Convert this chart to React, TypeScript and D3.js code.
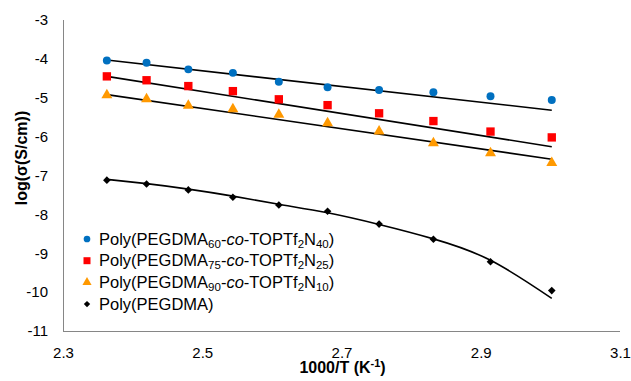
import React, { useEffect, useRef } from "react";
import * as d3 from "d3";

// 1000/T (K^-1) for 150 ... 60 °C
const invT = [2.363, 2.42, 2.48, 2.544, 2.61, 2.68, 2.754, 2.832, 2.914, 3.002];

const peg60 = [-4.04, -4.1, -4.27, -4.36, -4.59, -4.73, -4.8, -4.86, -4.96, -5.06];
const peg75 = [-4.45, -4.55, -4.7, -4.83, -5.04, -5.19, -5.4, -5.6, -5.87, -6.02];
const peg90 = [-4.96, -5.06, -5.23, -5.32, -5.46, -5.68, -5.89, -6.19, -6.45, -6.7];
const pegdma = [-7.12, -7.22, -7.37, -7.56, -7.76, -7.92, -8.25, -8.64, -9.22, -9.96];

// trend lines (start / end for the linear ones)
const fitX = [2.363, 3.002];
const fit60 = [-4.03, -5.32];
const fit75 = [-4.45, -6.26];
const fit90 = [-4.92, -6.58];
const fitPegdma = [-7.1, -7.21, -7.35, -7.53, -7.74, -7.96, -8.26, -8.63, -9.18, -10.16];

const xTicks = [2.3, 2.5, 2.7, 2.9, 3.1];
const yTicks = [-3, -4, -5, -6, -7, -8, -9, -10, -11];

const FONT = "'Liberation Sans', Arial, sans-serif";

interface Series {
  key: string;
  values: number[];
  color: string;
  shape: "circle" | "square" | "triangle" | "diamond";
  label: [string, string, string] | null;
}

const series: Series[] = [
  { key: "60", values: peg60, color: "#0070C0", shape: "circle", label: ["60", "2", "40"] },
  { key: "75", values: peg75, color: "#FF0000", shape: "square", label: ["75", "2", "25"] },
  { key: "90", values: peg90, color: "#FF9900", shape: "triangle", label: ["90", "2", "10"] },
  { key: "0", values: pegdma, color: "#000000", shape: "diamond", label: null },
];

const symbolFor = (shape: Series["shape"], scale: number) => {
  if (shape === "circle") return d3.symbol(d3.symbolCircle, 50 * scale)();
  if (shape === "square") return d3.symbol(d3.symbolSquare, 70 * scale)();
  if (shape === "triangle") return d3.symbol(d3.symbolTriangle, 52 * scale)();
  return d3.symbol(d3.symbolSquare, 29 * scale)();
};

const App: React.FC = () => {
  const svgRef = useRef<SVGSVGElement | null>(null);

  useEffect(() => {
    const svg = d3.select(svgRef.current);
    svg.selectAll("*").remove();

    const margin = { top: 20, right: 11, bottom: 50, left: 63 };
    const width = 631 - margin.left - margin.right;
    const height = 381 - margin.top - margin.bottom;

    const x = d3.scaleLinear().domain([2.3, 3.1]).range([0, width]);
    const y = d3.scaleLinear().domain([-11, -3]).range([height, 0]);

    const g = svg.append("g").attr("transform", `translate(${margin.left},${margin.top})`);

    // axes
    const xAxis = g
      .append("g")
      .attr("transform", `translate(0,${height})`)
      .call(
        d3
          .axisBottom(x)
          .tickValues(xTicks)
          .tickSize(0)
          .tickPadding(16)
          .tickFormat((d) => (d as number).toFixed(1))
      );
    const yAxis = g
      .append("g")
      .call(
        d3
          .axisLeft(y)
          .tickValues(yTicks)
          .tickSize(0)
          .tickPadding(15)
          .tickFormat((d) => String(d))
      );
    [xAxis, yAxis].forEach((a) => {
      a.select(".domain").attr("stroke", "#868686").attr("stroke-width", 1);
      a.selectAll("text").attr("font-family", FONT).attr("font-size", 15).attr("fill", "#000");
    });
    yAxis.select(".domain").attr("d", `M0.5,0V${height + 0.5}`);
    xAxis.select(".domain").attr("d", `M0,0.5H${width}`);

    // trend lines
    const line = d3
      .line<[number, number]>()
      .x((d) => x(d[0]))
      .y((d) => y(d[1]));
    [fit60, fit75, fit90].forEach((f) => {
      g.append("path")
        .attr("d", line(fitX.map((v, i) => [v, f[i]] as [number, number])))
        .attr("fill", "none")
        .attr("stroke", "#000")
        .attr("stroke-width", 1.6);
    });
    g.append("path")
      .attr("d", line.curve(d3.curveNatural)(invT.map((v, i) => [v, fitPegdma[i]] as [number, number])))
      .attr("fill", "none")
      .attr("stroke", "#000")
      .attr("stroke-width", 1.6);

    // markers
    series.forEach((s) => {
      g.append("g")
        .selectAll("path")
        .data(s.values)
        .enter()
        .append("path")
        .attr("d", symbolFor(s.shape, 1))
        .attr("fill", s.color)
        .attr("transform", (d, i) => {
          const base = `translate(${x(invT[i])},${y(d)})`;
          if (s.shape === "diamond") return base + " rotate(45)";
          if (s.shape === "triangle") return base + " translate(0,-1)";
          return base;
        });
    });

    // legend
    const legend = svg.append("g").attr("transform", "translate(87,239)");
    series.forEach((s, i) => {
      const row = legend.append("g").attr("transform", `translate(0,${i * 21.7})`);
      row
        .append("path")
        .attr("d", symbolFor(s.shape, 0.7))
        .attr("fill", s.color)
        .attr("transform", s.shape === "diamond" ? "rotate(45)" : "");
      const t = row
        .append("text")
        .attr("x", 12)
        .attr("y", 5.5)
        .attr("font-family", FONT)
        .attr("font-size", 16.5)
        .attr("fill", "#000");
      if (!s.label) {
        t.text("Poly(PEGDMA)");
        return;
      }
      const [a, b, c] = s.label;
      t.append("tspan").text("Poly(PEGDMA");
      t.append("tspan").attr("font-size", 11.5).attr("dy", 3).text(a);
      t.append("tspan").attr("dy", -3).text("-");
      t.append("tspan").attr("font-style", "italic").text("co");
      t.append("tspan").text("-TOPTf");
      t.append("tspan").attr("font-size", 11.5).attr("dy", 3).text(b);
      t.append("tspan").attr("dy", -3).text("N");
      t.append("tspan").attr("font-size", 11.5).attr("dy", 3).text(c);
      t.append("tspan").attr("dy", -3).text(")");
    });

    // axis titles
    const xt = svg
      .append("text")
      .attr("x", margin.left + width / 2 + 1)
      .attr("y", 373)
      .attr("text-anchor", "middle")
      .attr("font-family", FONT)
      .attr("font-size", 16)
      .attr("font-weight", "bold");
    xt.append("tspan").text("1000/T (K");
    xt.append("tspan").attr("font-size", 11).attr("dy", -6).text("-1");
    xt.append("tspan").attr("dy", 6).text(")");

    svg
      .append("text")
      .attr("transform", "translate(27,158) rotate(-90)")
      .attr("text-anchor", "middle")
      .attr("font-family", FONT)
      .attr("font-size", 16)
      .attr("font-weight", "bold")
      .text("log(σ(S/cm))");
  }, []);

  return (
    <svg
      ref={svgRef}
      width={631}
      height={381}
      style={{ position: "absolute", left: 0, top: 0, background: "#fff" }}
    ></svg>
  );
};

export default App;
